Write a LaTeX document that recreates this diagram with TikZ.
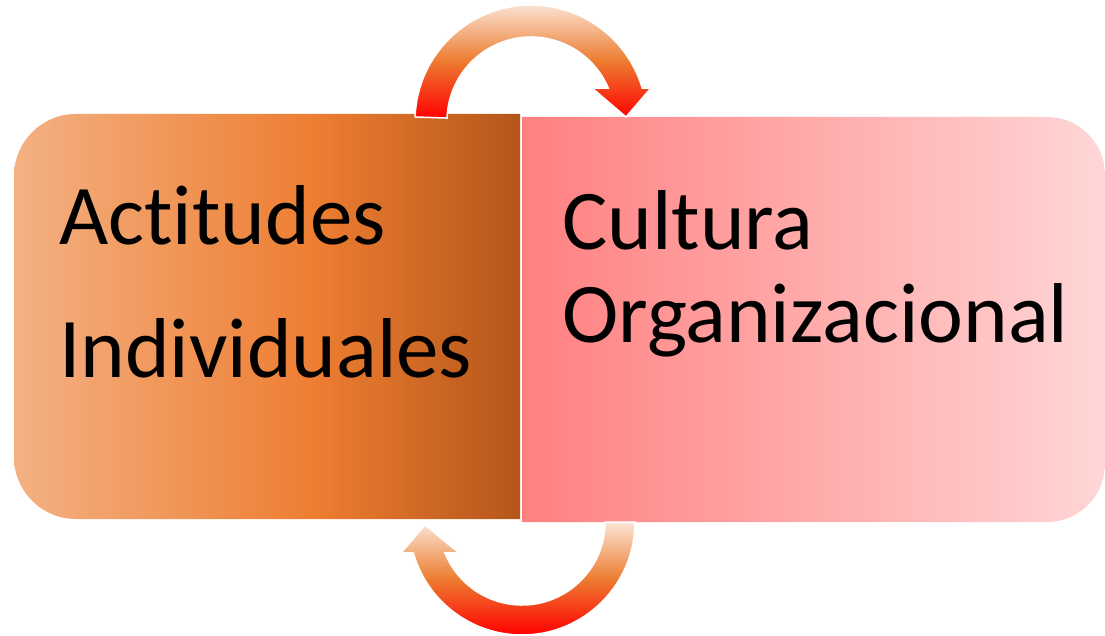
\documentclass[tikz,border=0pt]{standalone}
\usepackage{fontspec}
\setmainfont{Carlito}[Ligatures=NoCommon]
\usepackage{tikz}
\usetikzlibrary{calc}
\definecolor{peach}{HTML}{F4B183}
\definecolor{orangeacc}{HTML}{ED7D31}
\definecolor{rust}{HTML}{B4561A}
\definecolor{salmon}{HTML}{FF8080}
\definecolor{blush}{HTML}{FFD6D6}
\definecolor{cream}{HTML}{FBE5D6}
\definecolor{hotred}{HTML}{FF0000}
\pgfdeclarehorizontalshading{actshade}{100bp}{color(0bp)=(peach); color(25bp)=(peach); color(55bp)=(orangeacc); color(75bp)=(rust); color(100bp)=(rust)}
\pgfdeclarehorizontalshading{culshade}{100bp}{color(0bp)=(salmon); color(25bp)=(salmon); color(75bp)=(blush); color(100bp)=(blush)}
\pgfdeclareverticalshading{loopshade}{100bp}{color(0bp)=(hotred); color(25bp)=(hotred); color(50bp)=(orangeacc); color(75bp)=(cream); color(100bp)=(cream)}
\tikzstyle{boxnode} = [inner sep=0pt, outer sep=0pt]
\tikzstyle{bigtext} = [inner sep=0pt, anchor=base west, align=left]
\tikzstyle{looparrow} = [shading=loopshade, draw=white, line width=1.5pt, line join=miter]

\begin{document}
\begin{tikzpicture}[x=1pt, y=1pt]
			\useasboundingbox (0,0) rectangle (1105,635);
			\node [boxnode, minimum width=506pt, minimum height=405pt] (actitudes) at (267, 318.5) {};
			\node [boxnode, minimum width=583pt, minimum height=405pt] (cultura) at (813.5, 315.5) {};
			
			% box shading
			\begin{scope}
				\clip [rounded corners=62pt] (actitudes.north west) rectangle ($(actitudes.south east)+(80,0)$);
				\shade [shading=actshade] (actitudes.north west) rectangle (actitudes.south east);
			\end{scope}
			\begin{scope}
				\clip [rounded corners=58pt] ($(cultura.north west)-(80,0)$) rectangle (cultura.south east);
				\shade [shading=culshade] (cultura.north west) rectangle (cultura.south east);
			\end{scope}
			
			% base anchor sits on the last line
			\node [bigtext, font=\fontsize{85pt}{133pt}\selectfont] (acttext) at (59, 257) {Actitudes\\Individuales};
			\node [bigtext, font=\fontsize{85pt}{93pt}\selectfont] (cultext) at (562, 292) {Cultura\\Organizacional};
			
			% arrows
			\coordinate (upc) at (531, 514);
			\coordinate (downc) at (522, 113);
			\shade [looparrow] ($(upc)+(178:116pt)$) arc [start angle=178, end angle=16.5, radius=116pt]
				-- (651, 547) -- (626, 518) -- (592, 547)
				-- ($(upc)+(23.1:84pt)$) arc [start angle=23.1, end angle=178, radius=84pt] -- cycle;
			\shade [looparrow] ($(downc)+(0:113pt)$) arc [start angle=0, end angle=-164.1, radius=113pt]
				-- (401, 82) -- (425, 110) -- (459, 82)
				-- ($(downc)+(-158.1:83pt)$) arc [start angle=-158.1, end angle=0, radius=83pt] -- cycle;
		\end{tikzpicture}
\end{document}
